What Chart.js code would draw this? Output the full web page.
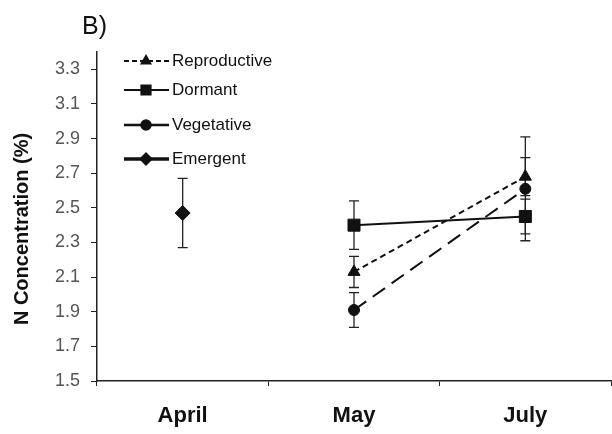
<!DOCTYPE html>
<html>
<head>
<meta charset="utf-8">
<script src="https://cdn.jsdelivr.net/npm/chart.js@4"></script>
<style>
  body { margin: 0; background: #fff; }
  canvas { display: block; }
</style>
</head>
<body>
<canvas id="chart" width="612" height="434"></canvas>
<script>
// Data
const months = ['April', 'May', 'July'];
const yTicks = [1.5, 1.7, 1.9, 2.1, 2.3, 2.5, 2.7, 2.9, 3.1, 3.3];

const reproductive = [null, 2.13, 2.68];
const dormant = [null, 2.40, 2.45];
const vegetative = [null, 1.91, 2.61];
const emergent = [2.47, null, null];

// half-width of error bars (+/-)
const reproductiveErr = [null, 0.09, 0.11];
const dormantErr = [null, 0.14, 0.10];
const vegetativeErr = [null, 0.10, 0.30];
const emergentErr = [0.20, null, null];

const ink = '#111';
const yTitle = 'N Concentration (%)';
Chart.defaults.font.family = '"Liberation Sans", Arial, sans-serif';

// Error bars, drawn under the markers
const errorBars = {
  id: 'errorBars',
  beforeDatasetsDraw(chart) {
    const ctx = chart.ctx;
    const x = chart.scales.x, y = chart.scales.y;
    ctx.save();
    ctx.strokeStyle = '#222';
    ctx.lineWidth = 1.3;
    chart.data.datasets.forEach(ds => {
      ds.data.forEach((v, i) => {
        const e = ds.errors[i];
        if (v == null || e == null) return;
        const px = x.getPixelForValue(i);
        const top = y.getPixelForValue(v + e);
        const bot = y.getPixelForValue(v - e);
        ctx.beginPath();
        ctx.moveTo(px, top); ctx.lineTo(px, bot);
        ctx.moveTo(px - 5, top); ctx.lineTo(px + 5, top);
        ctx.moveTo(px - 5, bot); ctx.lineTo(px + 5, bot);
        ctx.stroke();
      });
    });
    ctx.restore();
  }
};

// Panel letter, y title and legend
const legendItems = [
  { label: 'Reproductive', y: 61, dash: [5, 3], width: 2, style: 'triangle', r: 5 },
  { label: 'Dormant', y: 90, dash: [], width: 2, style: 'rect', r: 6.5 },
  { label: 'Vegetative', y: 125, dash: [], width: 2.5, style: 'circle', r: 4.5 },
  { label: 'Emergent', y: 159, dash: [], width: 3.5, style: 'rectRot', r: 4.5 }
];

const extras = {
  id: 'extras',
  afterDraw(chart) {
    const ctx = chart.ctx;
    ctx.save();
    ctx.fillStyle = ink;
    ctx.font = '25px "Liberation Sans", Arial, sans-serif';
    ctx.textBaseline = 'alphabetic';
    ctx.fillText('B)', 82, 34);

    // y axis title
    ctx.save();
    ctx.translate(22, 229);
    ctx.rotate(-Math.PI / 2);
    ctx.font = 'bold 20px "Liberation Sans", Arial, sans-serif';
    ctx.textAlign = 'center';
    ctx.textBaseline = 'middle';
    ctx.fillText(yTitle, 0, 0);
    ctx.restore();

    ctx.font = '17px "Liberation Sans", Arial, sans-serif';
    ctx.textBaseline = 'middle';
    legendItems.forEach(it => {
      ctx.strokeStyle = ink;
      ctx.lineWidth = it.width;
      ctx.setLineDash(it.dash);
      ctx.beginPath();
      ctx.moveTo(124, it.y); ctx.lineTo(169, it.y);
      ctx.stroke();
      ctx.setLineDash([]);
      ctx.fillStyle = ink;
      Chart.helpers.drawPoint(ctx, { pointStyle: it.style, radius: it.r, rotation: 0, borderWidth: 1 }, 146, it.y);
      ctx.fillText(it.label, 172, it.y);
    });
    ctx.restore();
  }
};

function series(label, data, errors, style, radius, dash) {
  return {
    label, data, errors,
    borderColor: ink,
    backgroundColor: ink,
    borderWidth: 2,
    borderDash: dash,
    pointStyle: style,
    pointRadius: radius,
    pointHoverRadius: radius,
    pointBackgroundColor: ink,
    pointBorderColor: ink,
    pointBorderWidth: 1,
    tension: 0
  };
}

new Chart(document.getElementById('chart'), {
  type: 'line',
  data: {
    labels: months,
    datasets: [
      series('Reproductive', reproductive, reproductiveErr, 'triangle', 7, [6, 4]),
      series('Dormant', dormant, dormantErr, 'rect', 8.5, []),
      series('Vegetative', vegetative, vegetativeErr, 'circle', 5.5, [15, 8]),
      series('Emergent', emergent, emergentErr, 'rectRot', 7.5, [])
    ]
  },
  options: {
    responsive: false,
    animation: false,
    devicePixelRatio: 1,
    layout: { autoPadding: false, padding: { top: 52, right: 1, left: 0, bottom: 0 } },
    plugins: {
      legend: { display: false },
      tooltip: { enabled: false }
    },
    scales: {
      x: {
        offset: true,
        afterFit(s) { s.height = 53; s.paddingLeft = 0; s.paddingRight = 0; },
        grid: { offset: true, drawOnChartArea: false, drawTicks: true, tickLength: 5, color: '#222' },
        border: { display: true, color: '#222', width: 1.5 },
        ticks: {
          color: ink,
          padding: 17,
          font: { size: 22, weight: 'bold' }
        }
      },
      y: {
        min: 1.5,
        max: 3.4,
        afterFit(s) { s.width = 97; },
        afterBuildTicks(s) { s.ticks = yTicks.map(v => ({ value: v })); },
        grid: { drawOnChartArea: false, drawTicks: true, tickLength: 6, color: '#222' },
        border: { display: true, color: '#222', width: 1.5 },
        ticks: {
          color: '#555',
          padding: 11,
          font: { size: 18 },
          callback: v => v.toFixed(1)
        }
      }
    }
  },
  plugins: [errorBars, extras]
});
</script>
</body>
</html>
